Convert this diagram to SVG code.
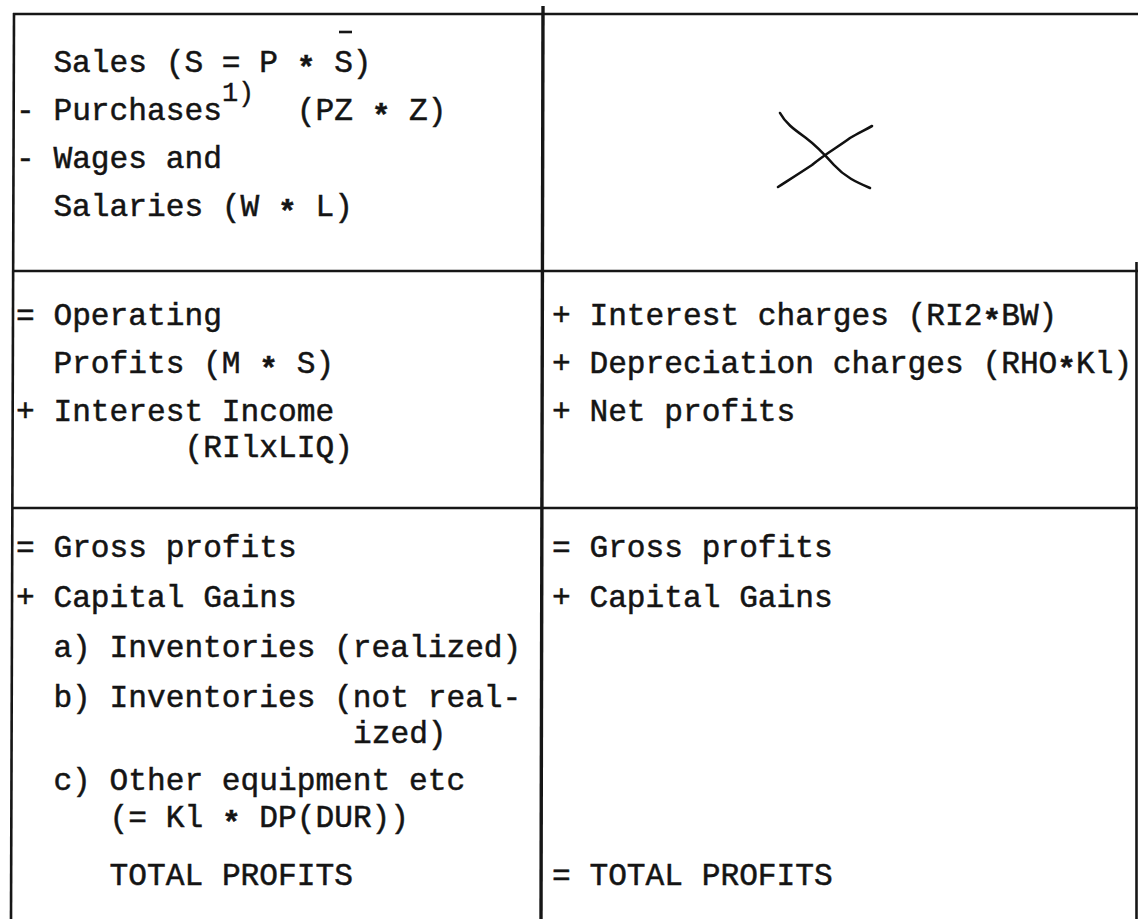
<svg xmlns="http://www.w3.org/2000/svg" width="1138" height="919" viewBox="0 0 1138 919">
<style>
  .t { font-family: "Liberation Mono", "Courier New", monospace; font-size: 31.2px; fill: #141414; stroke: #141414; stroke-width: 0.5; }
  .sup { font-family: "Liberation Mono", "Courier New", monospace; font-size: 27px; fill: #141414; stroke: #141414; stroke-width: 0.4; }
  .st { font-weight: bold; }
  .ln { stroke: #161616; stroke-width: 2.6; fill: none; stroke-linecap: butt; }
  .lnm { stroke: #161616; stroke-width: 3.4; fill: none; }
  .x { stroke: #111; stroke-width: 2.6; fill: none; stroke-linecap: round; }
</style>
<rect width="1138" height="919" fill="#ffffff"/>
<g id="grid">
  <line class="ln" x1="13" y1="14" x2="1138" y2="14"/>
  <line class="ln" x1="13" y1="271" x2="1138" y2="271"/>
  <line class="ln" x1="13" y1="508" x2="1138" y2="508"/>
  <line class="ln" x1="14" y1="13" x2="11" y2="919"/>
  <line class="lnm" x1="543" y1="6" x2="541" y2="919"/>
  <line class="ln" x1="1136.5" y1="262" x2="1136.5" y2="919"/>
</g>
<g id="cell-sales">
  <line class="ln" x1="339" y1="32" x2="352" y2="32"/>
  <text class="t" x="53.4" y="72">Sales (S = P <tspan class="st" dy="6">*</tspan><tspan dy="-6"> S)</tspan></text>
  <text class="t" x="16" y="120">- Purchases</text>
  <text class="sup" x="221.9" y="101">1)</text>
  <text class="t" x="296.8" y="120">(PZ <tspan class="st" dy="6">*</tspan><tspan dy="-6"> Z)</tspan></text>
  <text class="t" x="16" y="168">- Wages and</text>
  <text class="t" x="53.4" y="216">Salaries (W <tspan class="st" dy="6">*</tspan><tspan dy="-6"> L)</tspan></text>
</g>
<g id="cell-empty">
  <path class="x" d="M780 113 C786 124 795 130 806 138 C818 147 826 156 834 165 C845 177 856 182 870 188"/>
  <path class="x" d="M778 187 C792 178 803 171 812 165 C825 154 838 147 850 138 C858 133 865 130 872 126"/>
</g>
<g id="cell-operating">
  <text class="t" x="16" y="325">= Operating</text>
  <text class="t" x="53.4" y="373">Profits (M <tspan class="st" dy="6">*</tspan><tspan dy="-6"> S)</tspan></text>
  <text class="t" x="16" y="421">+ Interest Income</text>
  <text class="t" x="184.5" y="457">(RIlxLIQ)</text>
</g>
<g id="cell-charges">
  <text class="t" x="552" y="325">+ Interest charges (RI2<tspan class="st" dy="6">*</tspan><tspan dy="-6">BW)</tspan></text>
  <text class="t" x="552" y="373">+ Depreciation charges (RHO<tspan class="st" dy="6">*</tspan><tspan dy="-6">Kl)</tspan></text>
  <text class="t" x="552" y="421">+ Net profits</text>
</g>
<g id="cell-gross-left">
  <text class="t" x="16" y="557">= Gross profits</text>
  <text class="t" x="16" y="607">+ Capital Gains</text>
  <text class="t" x="53.4" y="657">a) Inventories (realized)</text>
  <text class="t" x="53.4" y="707">b) Inventories (not real-</text>
  <text class="t" x="353" y="743">ized)</text>
  <text class="t" x="53.4" y="790">c) Other equipment etc</text>
  <text class="t" x="109.6" y="827">(= Kl <tspan class="st" dy="6">*</tspan><tspan dy="-6"> DP(DUR))</tspan></text>
  <text class="t" x="109.6" y="885">TOTAL PROFITS</text>
</g>
<g id="cell-gross-right">
  <text class="t" x="552" y="557">= Gross profits</text>
  <text class="t" x="552" y="607">+ Capital Gains</text>
  <text class="t" x="552" y="885">= TOTAL PROFITS</text>
</g>
</svg>
